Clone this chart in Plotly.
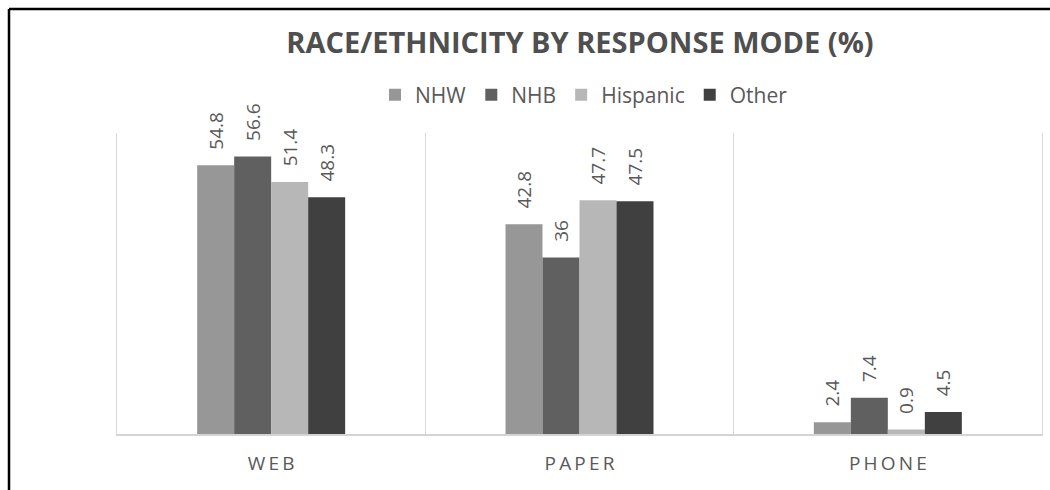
import plotly.graph_objects as go

modes = ["WEB", "PAPER", "PHONE"]
mode_labels = ["W\u2009E\u2009B", "P\u2009A\u2009P\u2009E\u2009R", "P\u2009H\u2009O\u2009N\u2009E"]
groups = ["NHW", "NHB", "Hispanic", "Other"]
nhw = [54.8, 42.8, 2.4]
nhb = [56.6, 36, 7.4]
hispanic = [51.4, 47.7, 0.9]
other = [48.3, 47.5, 4.5]
colors = ["#979797", "#606060", "#b7b7b7", "#404040"]

W, H = 1050, 490
L, R, T, B = 117, 1042, 133, 434
pw, ph = R - L, B - T

def px_x(x):
    return (x - L) / pw

def px_y(y):
    return (B - y) / ph

fig = go.Figure()
for name, vals, col in zip(groups, [nhw, nhb, hispanic, other], colors):
    fig.add_trace(go.Bar(
        x=modes, y=vals, name=name,
        marker=dict(color=col, line=dict(width=0)),
        # leading spaces lift the rotated label clear of the bar top
        text=[f"\u2002\u2009{v:g}" for v in vals],
        textposition="outside", textangle=-90,
        constraintext="none", cliponaxis=False,
        textfont=dict(family="Open Sans", size=19, color="#595959"),
    ))

fig.update_layout(
    width=W, height=H,
    margin=dict(l=L, r=W - R, t=T, b=H - B),
    paper_bgcolor="white", plot_bgcolor="white",
    barmode="group", bargap=0.52, bargroupgap=0,
    font=dict(family="Open Sans", color="#595959"),
    title=dict(
        text="<b>RACE/ETHNICITY BY RESPONSE MODE (%)</b>",
        x=px_x(580), xref="paper", xanchor="center",
        y=1 - 43 / H, yref="container", yanchor="middle",
        font=dict(family="Open Sans", size=29, color="#4f4f4f"),
    ),
    legend=dict(
        orientation="h", x=px_x(584), xanchor="center",
        y=px_y(95), yanchor="middle",
        font=dict(family="Open Sans", size=21, color="#595959"),
        itemwidth=30, tracegroupgap=0, bgcolor="rgba(0,0,0,0)",
    ),
    xaxis=dict(
        type="category", tickmode="array", tickvals=modes, ticktext=mode_labels,
        tickson="boundaries", ticks="", showgrid=True, gridcolor="#d9d9d9",
        gridwidth=1, showline=True, linecolor="#d4d4d4", linewidth=2,
        tickfont=dict(family="Open Sans", size=19, color="#595959"),
        ticklabelstandoff=11,
    ),
    yaxis=dict(
        range=[0, 61.4], showgrid=False, showticklabels=False, zeroline=False,
        showline=True, mirror=True, linecolor="#d9d9d9", linewidth=1,
    ),
    showlegend=True,
)

# outer black frame of the document box
fig.add_shape(type="line", xref="paper", yref="paper",
              x0=px_x(9), x1=px_x(1060), y0=px_y(9), y1=px_y(9),
              line=dict(color="black", width=2.5))
fig.add_shape(type="line", xref="paper", yref="paper",
              x0=px_x(9), x1=px_x(9), y0=px_y(9), y1=px_y(500),
              line=dict(color="black", width=2.5))

fig.write_html("out.html")
